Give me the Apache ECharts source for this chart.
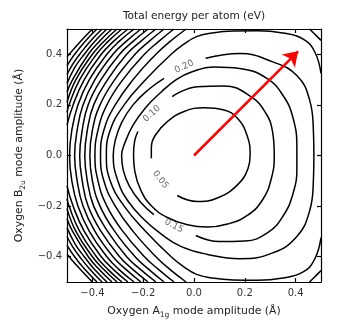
<!DOCTYPE html>
<html>
<head>
<meta charset="utf-8">
<script src="https://cdn.jsdelivr.net/npm/echarts@6/dist/echarts.min.js"></script>
<style>
  html, body { margin: 0; padding: 0; background: #fff; }
  #chart { width: 341px; height: 331px; }
</style>
</head>
<body>
<div id="chart"></div>
<script>
// tick values on both axes
const xTicks = [-0.4, -0.2, 0, 0.2, 0.4];
const yTicks = [-0.4, -0.2, 0, 0.2, 0.4];

// contour lines, [A1g, B2u] in Å, one array per drawn piece
// labelled loops have a gap where the label sits
const c005 = [[-0.066,-0.158],[0.013,-0.182],[0.092,-0.168],[0.171,-0.116],[0.213,-0.05],[0.221,0.003],[0.208,0.082],[0.171,0.147],[0.118,0.18],[0.039,0.189],[-0.039,0.174],[-0.105,0.134],[-0.151,0.082],[-0.168,0.029],[-0.168,-0.011]];
const c010 = [[-0.086,0.233],[0.013,0.272],[0.118,0.275],[0.224,0.233],[0.283,0.167],[0.309,0.095],[0.316,0.003],[0.305,-0.089],[0.27,-0.175],[0.21,-0.237],[0.132,-0.271],[0.053,-0.283],[-0.026,-0.274],[-0.105,-0.245],[-0.168,-0.199],[-0.21,-0.136],[-0.233,-0.063],[-0.238,0.003],[-0.234,0.055],[-0.221,0.095]];
const c015 = [[0.007,-0.316],[0.1,-0.34],[0.2,-0.338],[0.29,-0.305],[0.35,-0.24],[0.39,-0.15],[0.405,-0.05],[0.405,0.03],[0.39,0.148],[0.35,0.238],[0.287,0.305],[0.18,0.344],[0.08,0.35],[-0.01,0.33],[-0.07,0.3],[-0.13,0.25],[-0.19,0.19],[-0.24,0.12],[-0.272,0.05],[-0.285,0],[-0.278,-0.06],[-0.255,-0.12],[-0.21,-0.185],[-0.158,-0.234]];
const c020 = [[0.046,0.384],[0.18,0.403],[0.31,0.37],[0.405,0.316],[0.455,0.22],[0.47,0.1],[0.472,0],[0.47,-0.1],[0.455,-0.22],[0.405,-0.32],[0.31,-0.385],[0.18,-0.408],[0.05,-0.39],[-0.05,-0.36],[-0.13,-0.31],[-0.2,-0.25],[-0.26,-0.18],[-0.3,-0.1],[-0.318,0],[-0.31,0.06],[-0.285,0.13],[-0.24,0.2],[-0.18,0.26],[-0.118,0.305]];
const c025 = [[0.5,0.325],[0.475,0.41],[0.43,0.46],[0.35,0.484],[0.25,0.493],[0.154,0.492],[0.07,0.484],[0.01,0.47],[-0.04,0.44],[-0.09,0.4],[-0.19,0.3],[-0.275,0.2],[-0.33,0.1],[-0.345,0],[-0.33,-0.1],[-0.275,-0.2],[-0.19,-0.3],[-0.09,-0.4],[-0.04,-0.44],[0.01,-0.47],[0.07,-0.484],[0.154,-0.492],[0.25,-0.493],[0.35,-0.484],[0.43,-0.46],[0.475,-0.41],[0.5,-0.325]];
const c030 = [[-0.031,0.5],[-0.095,0.45],[-0.15,0.4],[-0.24,0.3],[-0.31,0.2],[-0.355,0.1],[-0.368,0],[-0.355,-0.1],[-0.31,-0.2],[-0.24,-0.3],[-0.15,-0.4],[-0.095,-0.45],[-0.031,-0.5]];
const c030a = [[0.455,0.5],[0.475,0.48],[0.5,0.455]];
const c030b = [[0.455,-0.5],[0.475,-0.48],[0.5,-0.455]];
const c035 = [[-0.079,0.5],[-0.14,0.45],[-0.195,0.4],[-0.28,0.3],[-0.343,0.2],[-0.378,0.1],[-0.39,0],[-0.378,-0.1],[-0.343,-0.2],[-0.28,-0.3],[-0.195,-0.4],[-0.14,-0.45],[-0.079,-0.5]];
const c040 = [[-0.118,0.5],[-0.178,0.45],[-0.232,0.4],[-0.312,0.3],[-0.37,0.2],[-0.4,0.1],[-0.41,0],[-0.4,-0.1],[-0.37,-0.2],[-0.312,-0.3],[-0.232,-0.4],[-0.178,-0.45],[-0.118,-0.5]];
const c045 = [[-0.15,0.5],[-0.211,0.45],[-0.265,0.4],[-0.34,0.3],[-0.395,0.2],[-0.42,0.1],[-0.43,0],[-0.42,-0.1],[-0.395,-0.2],[-0.34,-0.3],[-0.265,-0.4],[-0.211,-0.45],[-0.15,-0.5]];
const c050 = [[-0.181,0.5],[-0.241,0.45],[-0.293,0.4],[-0.366,0.3],[-0.417,0.2],[-0.44,0.1],[-0.45,0],[-0.44,-0.1],[-0.417,-0.2],[-0.366,-0.3],[-0.293,-0.4],[-0.241,-0.45],[-0.181,-0.5]];
const c055 = [[-0.209,0.5],[-0.268,0.45],[-0.319,0.4],[-0.39,0.3],[-0.437,0.2],[-0.46,0.1],[-0.47,0],[-0.46,-0.1],[-0.437,-0.2],[-0.39,-0.3],[-0.319,-0.4],[-0.268,-0.45],[-0.209,-0.5]];
const c060 = [[-0.236,0.5],[-0.296,0.45],[-0.343,0.4],[-0.412,0.3],[-0.457,0.2],[-0.481,0.1],[-0.49,0],[-0.481,-0.1],[-0.457,-0.2],[-0.412,-0.3],[-0.343,-0.4],[-0.296,-0.45],[-0.236,-0.5]];
// corner pieces, top-left then bottom-left
const c065a = [[-0.26,0.5],[-0.318,0.45],[-0.365,0.4],[-0.432,0.3],[-0.476,0.2],[-0.5,0.12]];
const c065b = [[-0.26,-0.5],[-0.318,-0.45],[-0.365,-0.4],[-0.432,-0.3],[-0.476,-0.2],[-0.5,-0.12]];
const c070a = [[-0.284,0.5],[-0.339,0.45],[-0.384,0.4],[-0.45,0.3],[-0.492,0.2],[-0.5,0.17]];
const c070b = [[-0.284,-0.5],[-0.339,-0.45],[-0.384,-0.4],[-0.45,-0.3],[-0.492,-0.2],[-0.5,-0.17]];
const c075a = [[-0.303,0.5],[-0.356,0.45],[-0.4,0.4],[-0.465,0.3],[-0.5,0.21]];
const c075b = [[-0.303,-0.5],[-0.356,-0.45],[-0.4,-0.4],[-0.465,-0.3],[-0.5,-0.21]];
const c080a = [[-0.323,0.5],[-0.374,0.45],[-0.416,0.4],[-0.478,0.3],[-0.5,0.25]];
const c080b = [[-0.323,-0.5],[-0.374,-0.45],[-0.416,-0.4],[-0.478,-0.3],[-0.5,-0.25]];
const c085a = [[-0.343,0.5],[-0.392,0.45],[-0.432,0.4],[-0.468,0.35],[-0.5,0.285]];
const c085b = [[-0.343,-0.5],[-0.392,-0.45],[-0.432,-0.4],[-0.468,-0.35],[-0.5,-0.285]];
const c090a = [[-0.362,0.5],[-0.41,0.45],[-0.45,0.4],[-0.478,0.36],[-0.5,0.32]];
const c090b = [[-0.362,-0.5],[-0.41,-0.45],[-0.45,-0.4],[-0.478,-0.36],[-0.5,-0.32]];
const c095a = [[-0.382,0.5],[-0.43,0.45],[-0.47,0.4],[-0.5,0.355]];
const c095b = [[-0.382,-0.5],[-0.43,-0.45],[-0.47,-0.4],[-0.5,-0.355]];
const c100a = [[-0.4,0.5],[-0.448,0.45],[-0.5,0.39]];
const c100b = [[-0.4,-0.5],[-0.448,-0.45],[-0.5,-0.39]];

const contourPieces = [c005, c010, c015, c020, c025, c030, c030a, c030b, c035, c040, c045, c050, c055, c060,
  c065a, c065b, c070a, c070b, c075a, c075b, c080a, c080b, c085a, c085b, c090a, c090b, c095a, c095b, c100a, c100b];

// inline contour labels
const labelText = ['0.05', '0.10', '0.15', '0.20'];
const labelX = [-0.132, -0.166, -0.079, -0.039];
const labelY = [-0.096, 0.165, -0.278, 0.351];
const labelAngle = [-52, 42, -28, 24];

// the red arrow
const arrowFrom = [0, 0];
const arrowTo = [0.41, 0.412];

const font = 'DejaVu Sans';
const fmt = v => (v < 0 ? '\u2212' : '') + Math.abs(v).toFixed(1);

let chart = echarts.init(document.getElementById('chart'), null, {renderer: 'canvas'});

// line pieces
let series = contourPieces.map(p => ({
  type: 'line',
  data: p,
  smooth: 0.45,
  showSymbol: false,
  symbol: 'none',
  silent: true,
  lineStyle: {color: '#000', width: 1.5},
  z: 2
}));

// labels
series.push({
  type: 'scatter',
  data: labelText.map((t, i) => ({value: [labelX[i], labelY[i]], name: t,
    label: {rotate: labelAngle[i]}})),
  symbolSize: 0,
  itemStyle: {color: 'rgba(0,0,0,0)'},
  silent: true,
  label: {
    show: true,
    position: 'inside',
    formatter: p => p.name,
    fontFamily: font,
    fontSize: 9,
    color: '#444'
  },
  z: 3
});

// arrow from the origin
series.push({
  type: 'lines',
  coordinateSystem: 'cartesian2d',
  data: [{coords: [arrowFrom, arrowTo]}],
  symbol: ['none', 'arrow'],
  symbolSize: 14,
  silent: true,
  lineStyle: {color: '#ff0000', width: 2.5, opacity: 1, curveness: 0},
  z: 5
});

const axisLineStyle = {color: '#000', width: 1.2};

function xAx(pos, showLabel) {
  return {
    type: 'value', min: -0.5, max: 0.5, position: pos,
    axisLine: {show: true, onZero: false, lineStyle: axisLineStyle},
    axisTick: {show: true, inside: true, length: 4, customValues: xTicks, lineStyle: axisLineStyle},
    axisLabel: {show: showLabel, customValues: xTicks, formatter: fmt, margin: 6,
      fontFamily: font, fontSize: 10, color: '#333'},
    splitLine: {show: false}
  };
}
function yAx(pos, showLabel) {
  return {
    type: 'value', min: -0.5, max: 0.5, position: pos,
    axisLine: {show: true, onZero: false, lineStyle: axisLineStyle},
    axisTick: {show: true, inside: true, length: 4, customValues: yTicks, lineStyle: axisLineStyle},
    axisLabel: {show: showLabel, customValues: yTicks, formatter: fmt, margin: 5,
      fontFamily: font, fontSize: 10, color: '#333'},
    splitLine: {show: false}
  };
}

const nameStyle = {
  rich: {
    m: {fontFamily: font, fontSize: 10.8, color: '#222', lineHeight: 13, verticalAlign: 'top'},
    s: {fontFamily: font, fontSize: 7.5, color: '#222', lineHeight: 8, padding: [6, 0, 0, 0], verticalAlign: 'bottom'}
  }
};

let xMain = xAx('bottom', true);
xMain.name = '{m|Oxygen A}{s|1g}{m| mode amplitude (Å)}';
xMain.nameLocation = 'middle';
xMain.nameGap = 24;
xMain.nameTextStyle = nameStyle;

let yMain = yAx('left', true);
yMain.name = '{m|Oxygen B}{s|2u}{m| mode amplitude (Å)}';
yMain.nameLocation = 'middle';
yMain.nameGap = 36;
yMain.nameTextStyle = nameStyle;

chart.setOption({
  animation: false,
  backgroundColor: '#fff',
  grid: {left: 67, top: 29, width: 254, height: 253},
  graphic: [{
    type: 'text', x: 194, y: 16,
    style: {text: 'Total energy per atom (eV)', font: '10.6px "DejaVu Sans"', fill: '#222',
      align: 'center', verticalAlign: 'middle'}
  }],
  xAxis: [xMain, xAx('top', false)],
  yAxis: [yMain, yAx('right', false)],
  series: series
});
</script>
</body>
</html>
